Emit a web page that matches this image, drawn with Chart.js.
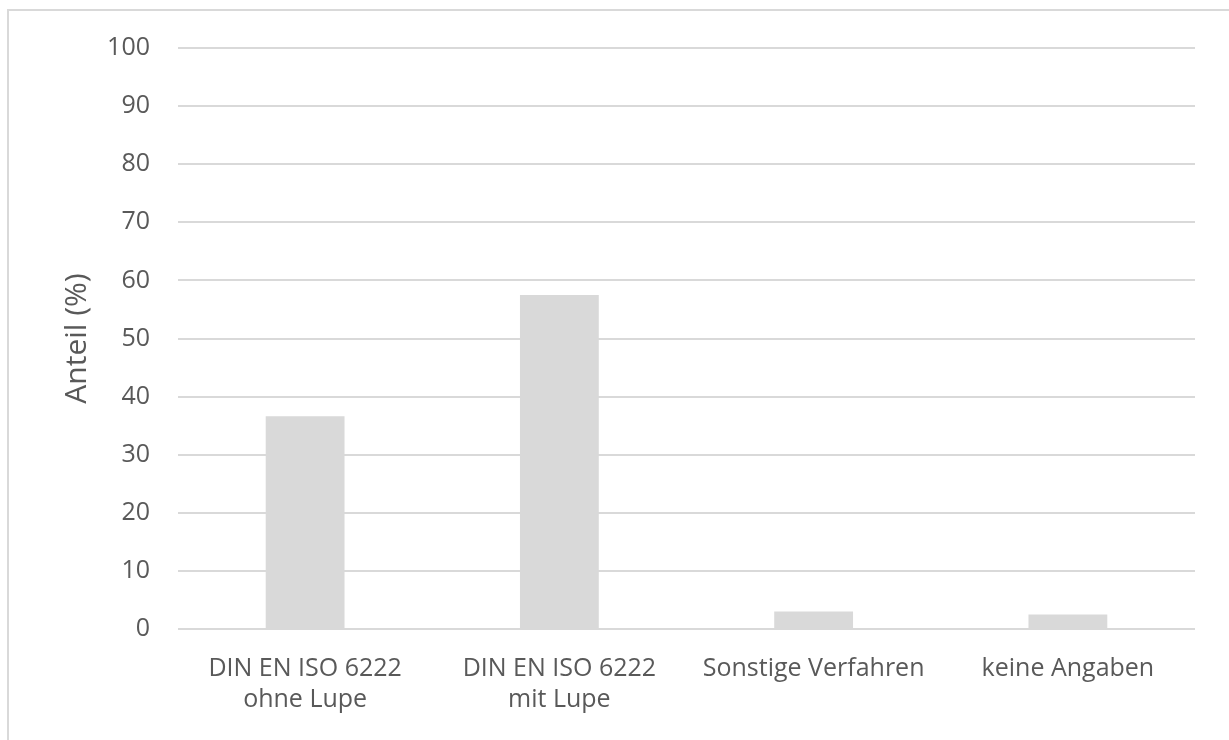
<!DOCTYPE html>
<html>
<head>
<meta charset="utf-8">
<script src="https://cdn.jsdelivr.net/npm/chart.js@4"></script>
<style>
  body { margin: 0; background: #fff; }
  .frame {
    position: absolute;
    left: 7px;
    top: 9px;
    width: 1240px;
    height: 760px;
    border-top: 2px solid #d9d9d9;
    border-left: 2px solid #d9d9d9;
  }
  .wrap { position: absolute; left: 0; top: 0; width: 1229px; height: 740px; }
</style>
</head>
<body>
<div class="frame"></div>
<div class="wrap"><canvas id="methodChart"></canvas></div>
<script>
// categories and shares (%)
const categories = [
    ["DIN EN ISO 6222", "ohne Lupe"],
    ["DIN EN ISO 6222", "mit Lupe"],
    "Sonstige Verfahren",
    "keine Angaben"
];
const shares = [36.6, 57.5, 3.0, 2.5];
const yTicks = [0, 10, 20, 30, 40, 50, 60, 70, 80, 90, 100];

const textColor = "#595959";
const gridColor = "#d9d9d9";
const fontFamily = "'Open Sans', 'Noto Sans', sans-serif";

new Chart(document.getElementById("methodChart"), {
    type: "bar",
    data: {
        labels: categories,
        datasets: [{
            label: "Anteil",
            data: shares,
            backgroundColor: "#d9d9d9",
            borderWidth: 0,
            barPercentage: 0.31,
            categoryPercentage: 1
        }]
    },
    options: {
        responsive: true,
        maintainAspectRatio: false,
        animation: false,
        layout: {
            padding: { top: 48, right: 34, left: 59, bottom: 0 }
        },
        plugins: {
            legend: { display: false },
            tooltip: { enabled: false }
        },
        scales: {
            x: {
                grid: { display: false },
                border: { display: false },
                ticks: {
                    color: textColor,
                    font: { family: fontFamily, size: 25, lineHeight: 1.25 },
                    padding: 16,
                    maxRotation: 0,
                    autoSkip: false
                },
                afterFit: (scale) => { scale.height = 111; }
            },
            y: {
                min: 0,
                max: 100,
                afterBuildTicks: (scale) => {
                    scale.ticks = yTicks.map(v => ({ value: v }));
                },
                grid: {
                    color: gridColor,
                    lineWidth: 2,
                    drawTicks: false
                },
                border: { display: false },
                ticks: {
                    color: textColor,
                    font: { family: fontFamily, size: 25 },
                    padding: 28
                },
                title: {
                    display: true,
                    text: "Anteil (%)",
                    color: textColor,
                    font: { family: fontFamily, size: 30 },
                    padding: { top: 0, bottom: 4 }
                },
                afterFit: (scale) => { scale.width = 119; }
            }
        }
    }
});
</script>
</body>
</html>
